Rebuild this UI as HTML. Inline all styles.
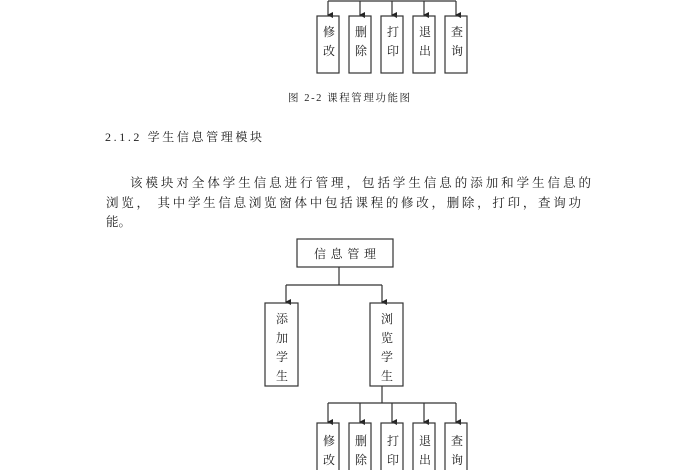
<!DOCTYPE html>
<html><head><meta charset="utf-8"><style>
html,body{margin:0;padding:0;background:#fff;width:700px;height:470px;overflow:hidden}
svg{display:block}
text{font-family:"Liberation Serif","Noto Serif CJK SC",serif;fill:#222}
</style></head><body>
<svg width="700" height="470" viewBox="0 0 700 470">
<defs><marker id="a" markerWidth="6" markerHeight="6" refX="3" refY="5" orient="auto" markerUnits="userSpaceOnUse"><path d="M0,0 L6,0 L3,6 z" fill="#222"/></marker></defs>
<g stroke="#333" stroke-width="1.2" fill="none">
<line x1="328" y1="1" x2="456" y2="1"/>
<line x1="328" y1="1" x2="328" y2="15" marker-end="url(#a)"/>
<line x1="360" y1="1" x2="360" y2="15" marker-end="url(#a)"/>
<line x1="392" y1="1" x2="392" y2="15" marker-end="url(#a)"/>
<line x1="424" y1="1" x2="424" y2="15" marker-end="url(#a)"/>
<line x1="456" y1="1" x2="456" y2="15" marker-end="url(#a)"/>
<rect x="317" y="16" width="22" height="57"/>
<rect x="349" y="16" width="22" height="57"/>
<rect x="381" y="16" width="22" height="57"/>
<rect x="413" y="16" width="22" height="57"/>
<rect x="445" y="16" width="22" height="57"/>

<rect x="297" y="239" width="96" height="28"/>
<line x1="339" y1="267" x2="339" y2="285"/>
<line x1="286" y1="285" x2="382" y2="285"/>
<line x1="286" y1="285" x2="286" y2="302" marker-end="url(#a)"/>
<line x1="382" y1="285" x2="382" y2="302" marker-end="url(#a)"/>
<rect x="265" y="303" width="33" height="83"/>
<rect x="370" y="303" width="33" height="83"/>
<line x1="382" y1="386" x2="382" y2="403"/>
<line x1="328" y1="403" x2="456" y2="403"/>
<line x1="328" y1="403" x2="328" y2="422" marker-end="url(#a)"/>
<line x1="360" y1="403" x2="360" y2="422" marker-end="url(#a)"/>
<line x1="392" y1="403" x2="392" y2="422" marker-end="url(#a)"/>
<line x1="424" y1="403" x2="424" y2="422" marker-end="url(#a)"/>
<line x1="456" y1="403" x2="456" y2="422" marker-end="url(#a)"/>
<rect x="317" y="423" width="22" height="60"/>
<rect x="349" y="423" width="22" height="60"/>
<rect x="381" y="423" width="22" height="60"/>
<rect x="413" y="423" width="22" height="60"/>
<rect x="445" y="423" width="22" height="60"/>
</g>
<g font-size="12" text-anchor="middle">
<text x="329" y="36">修</text><text x="329" y="55">改</text>
<text x="361" y="36">删</text><text x="361" y="55">除</text>
<text x="393" y="36">打</text><text x="393" y="55">印</text>
<text x="425" y="36">退</text><text x="425" y="55">出</text>
<text x="457" y="36">查</text><text x="457" y="55">询</text>
<text x="345" y="258" textLength="62">信息管理</text>
<text x="282" y="323">添</text><text x="282" y="342">加</text><text x="282" y="361">学</text><text x="282" y="380">生</text>
<text x="387" y="323">浏</text><text x="387" y="342">览</text><text x="387" y="361">学</text><text x="387" y="380">生</text>
<text x="329" y="445">修</text><text x="329" y="464">改</text>
<text x="361" y="445">删</text><text x="361" y="464">除</text>
<text x="393" y="445">打</text><text x="393" y="464">印</text>
<text x="425" y="445">退</text><text x="425" y="464">出</text>
<text x="457" y="445">查</text><text x="457" y="464">询</text>
</g>
<text x="288" y="101" font-size="10.5" textLength="122">图 2-2  课程管理功能图</text>
<text x="105" y="141" font-size="12" textLength="157">2.1.2   学生信息管理模块</text>
<text x="130" y="187" font-size="12.5" textLength="461">该模块对全体学生信息进行管理，包括学生信息的添加和学生信息的</text>
<text x="106" y="207" font-size="12.5" textLength="475">浏览， 其中学生信息浏览窗体中包括课程的修改，删除，打印，查询功</text>
<text x="106" y="226" font-size="12.5">能。</text>
</svg>
</body></html>
